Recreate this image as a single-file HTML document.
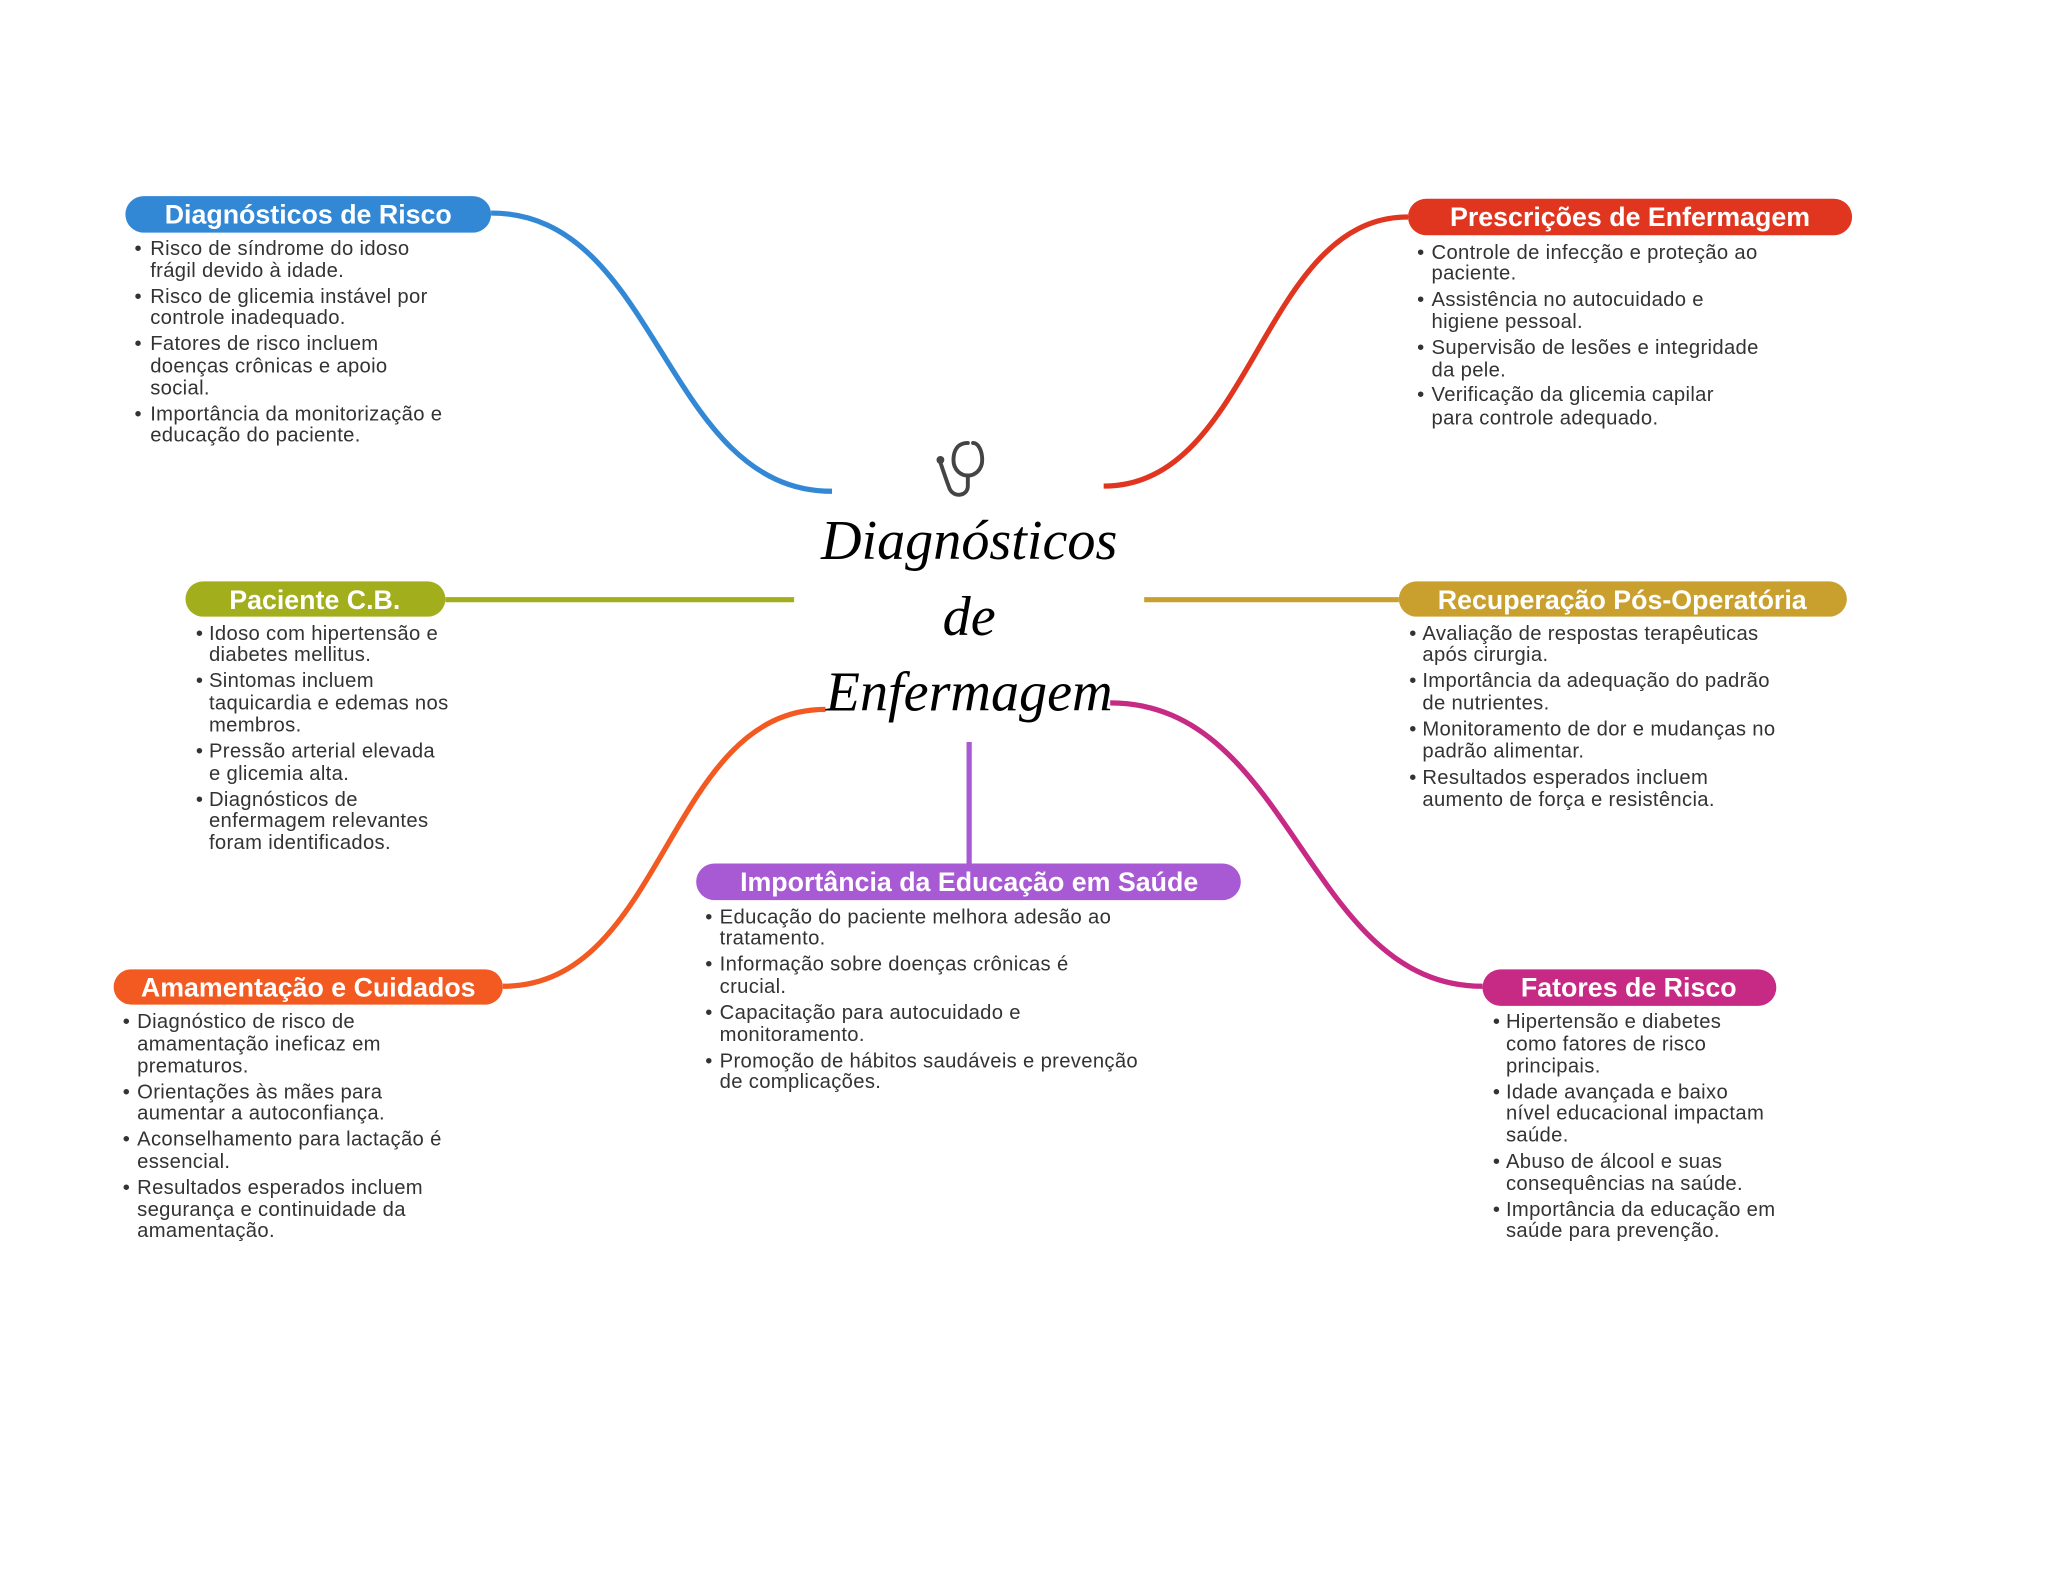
<!DOCTYPE html>
<html><head><meta charset="utf-8"><style>
html,body{margin:0;padding:0;background:#fff;}
svg{display:block}
.t{font-family:"Liberation Sans",sans-serif;font-size:15.5px;fill:#333;letter-spacing:0.25px;}
.h{font-family:"Liberation Sans",sans-serif;font-size:20.5px;font-weight:bold;fill:#fff;text-anchor:middle;}
.c{font-family:"Liberation Serif",serif;font-style:italic;font-size:43px;fill:#000;text-anchor:middle;}
</style></head><body>
<svg width="2048" height="1569" viewBox="0 0 1568 1201" xmlns="http://www.w3.org/2000/svg">
<rect width="1568" height="1201" fill="#fff"/>
<g fill="none" stroke-width="4">
<path d="M376,163 C505,163 508,376 637,376" stroke="#3388d6"/>
<path d="M845,372 C960,372 965,166 1078,166" stroke="#e0351f"/>
<path d="M341,459 H608" stroke="#a2ae1c"/>
<path d="M876,459 H1071" stroke="#c9a02e"/>
<path d="M385,755 C510,755 510,543 632,543" stroke="#f25a22"/>
<path d="M742,568 V661" stroke="#a85ad4"/>
<path d="M850,538 C990,538 1000,755 1135,755" stroke="#c62a85"/>
</g>
<rect x="96" y="150" width="280" height="28" rx="14" fill="#3388d6"/>
<text class="h" x="236" y="171">Diagnósticos de Risco</text>
<rect x="1078" y="152" width="340" height="28" rx="14" fill="#e0351f"/>
<text class="h" x="1248" y="173">Prescrições de Enfermagem</text>
<rect x="142" y="445" width="199" height="27" rx="13.5" fill="#a2ae1c"/>
<text class="h" x="241" y="466">Paciente C.B.</text>
<rect x="1071" y="445" width="343" height="27" rx="13.5" fill="#c9a02e"/>
<text class="h" x="1242" y="466">Recuperação Pós-Operatória</text>
<rect x="87" y="742" width="298" height="27" rx="13.5" fill="#f25a22"/>
<text class="h" x="236" y="763">Amamentação e Cuidados</text>
<rect x="533" y="661" width="417" height="28" rx="14" fill="#a85ad4"/>
<text class="h" x="742" y="682">Importância da Educação em Saúde</text>
<rect x="1135" y="742" width="225" height="28" rx="14" fill="#c62a85"/>
<text class="h" x="1247" y="763">Fatores de Risco</text>

<g class="t">
<text x="103" y="195">•</text><text x="115" y="195">Risco de síndrome do idoso</text><text x="115" y="212">frágil devido à idade.</text>
<text x="103" y="232">•</text><text x="115" y="232">Risco de glicemia instável por</text><text x="115" y="248">controle inadequado.</text>
<text x="103" y="268">•</text><text x="115" y="268">Fatores de risco incluem</text><text x="115" y="285">doenças crônicas e apoio</text><text x="115" y="302">social.</text>
<text x="103" y="322">•</text><text x="115" y="322">Importância da monitorização e</text><text x="115" y="338">educação do paciente.</text>

<text x="1085" y="198">•</text><text x="1096" y="198">Controle de infecção e proteção ao</text><text x="1096" y="214">paciente.</text>
<text x="1085" y="234">•</text><text x="1096" y="234">Assistência no autocuidado e</text><text x="1096" y="251">higiene pessoal.</text>
<text x="1085" y="271">•</text><text x="1096" y="271">Supervisão de lesões e integridade</text><text x="1096" y="288">da pele.</text>
<text x="1085" y="307">•</text><text x="1096" y="307">Verificação da glicemia capilar</text><text x="1096" y="325">para controle adequado.</text>

<text x="150" y="490">•</text><text x="160" y="490">Idoso com hipertensão e</text><text x="160" y="506">diabetes mellitus.</text>
<text x="150" y="526">•</text><text x="160" y="526">Sintomas incluem</text><text x="160" y="543">taquicardia e edemas nos</text><text x="160" y="560">membros.</text>
<text x="150" y="580">•</text><text x="160" y="580">Pressão arterial elevada</text><text x="160" y="597">e glicemia alta.</text>
<text x="150" y="617">•</text><text x="160" y="617">Diagnósticos de</text><text x="160" y="633">enfermagem relevantes</text><text x="160" y="650">foram identificados.</text>

<text x="1079" y="490">•</text><text x="1089" y="490">Avaliação de respostas terapêuticas</text><text x="1089" y="506">após cirurgia.</text>
<text x="1079" y="526">•</text><text x="1089" y="526">Importância da adequação do padrão</text><text x="1089" y="543">de nutrientes.</text>
<text x="1079" y="563">•</text><text x="1089" y="563">Monitoramento de dor e mudanças no</text><text x="1089" y="580">padrão alimentar.</text>
<text x="1079" y="600">•</text><text x="1089" y="600">Resultados esperados incluem</text><text x="1089" y="617">aumento de força e resistência.</text>

<text x="94" y="787">•</text><text x="105" y="787">Diagnóstico de risco de</text><text x="105" y="804">amamentação ineficaz em</text><text x="105" y="821">prematuros.</text>
<text x="94" y="841">•</text><text x="105" y="841">Orientações às mães para</text><text x="105" y="857">aumentar a autoconfiança.</text>
<text x="94" y="877">•</text><text x="105" y="877">Aconselhamento para lactação é</text><text x="105" y="894">essencial.</text>
<text x="94" y="914">•</text><text x="105" y="914">Resultados esperados incluem</text><text x="105" y="931">segurança e continuidade da</text><text x="105" y="947">amamentação.</text>

<text x="540" y="707">•</text><text x="551" y="707">Educação do paciente melhora adesão ao</text><text x="551" y="723">tratamento.</text>
<text x="540" y="743">•</text><text x="551" y="743">Informação sobre doenças crônicas é</text><text x="551" y="760">crucial.</text>
<text x="540" y="780">•</text><text x="551" y="780">Capacitação para autocuidado e</text><text x="551" y="797">monitoramento.</text>
<text x="540" y="817">•</text><text x="551" y="817">Promoção de hábitos saudáveis e prevenção</text><text x="551" y="833">de complicações.</text>

<text x="1143" y="787">•</text><text x="1153" y="787">Hipertensão e diabetes</text><text x="1153" y="804">como fatores de risco</text><text x="1153" y="821">principais.</text>
<text x="1143" y="841">•</text><text x="1153" y="841">Idade avançada e baixo</text><text x="1153" y="857">nível educacional impactam</text><text x="1153" y="874">saúde.</text>
<text x="1143" y="894">•</text><text x="1153" y="894">Abuso de álcool e suas</text><text x="1153" y="911">consequências na saúde.</text>
<text x="1143" y="931">•</text><text x="1153" y="931">Importância da educação em</text><text x="1153" y="947">saúde para prevenção.</text>
</g>

<g fill="none" stroke="#444" stroke-width="3" stroke-linecap="round">
<path d="M741,339 C733,339 730,345 730,352 C730,360 736,364 741,364 C746,364 752,360 752,352 C752,345 749,339 745,339"/>
<path d="M741,364 V372 C741,380 730,381 727,374 C724,366 722,360 720,354"/>
</g>
<circle cx="720" cy="352" r="3" fill="#444"/>
<text class="c" x="742" y="428">Diagnósticos</text>
<text class="c" x="742" y="486">de</text>
<text class="c" x="742" y="544">Enfermagem</text>
</svg>
</body></html>
